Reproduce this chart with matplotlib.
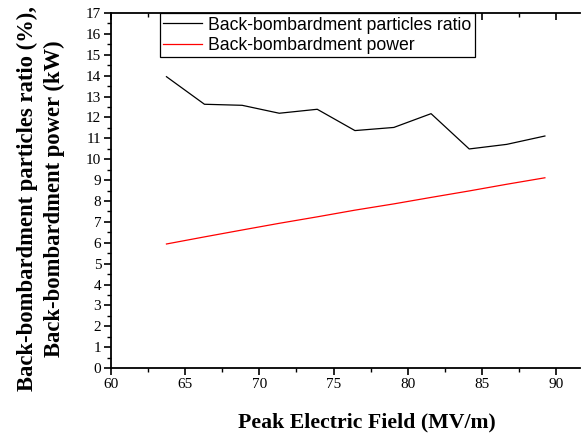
import matplotlib.pyplot as plt
from matplotlib.ticker import MultipleLocator

# Data
field = [63.74, 66.30, 68.84, 71.34, 73.90, 76.44, 79.06, 81.57, 84.14, 86.67, 89.24]
ratio = [13.95, 12.63, 12.58, 12.20, 12.39, 11.37, 11.52, 12.18, 10.49, 10.71, 11.11]
power = [5.94, 6.28, 6.61, 6.93, 7.24, 7.56, 7.86, 8.17, 8.48, 8.80, 9.11]

plt.rcParams['font.family'] = 'Liberation Serif'

# Prepare Plot
fig = plt.figure(figsize=(5.84, 4.33), dpi=100)
ax = fig.add_axes([0.190, 0.150, 0.803, 0.820])

ax.plot(field, ratio, color='black', lw=0.9, label='Back-bombardment particles ratio')
ax.plot(field, power, color='red', lw=0.9, label='Back-bombardment power')

ax.set_xlim(60, 91.6)
ax.set_ylim(0, 17)
ax.xaxis.set_major_locator(MultipleLocator(5))
ax.xaxis.set_minor_locator(MultipleLocator(2.5))
ax.yaxis.set_major_locator(MultipleLocator(1))
ax.yaxis.set_minor_locator(MultipleLocator(0.5))

ax.spines['right'].set_visible(False)
for s in ['left', 'bottom', 'top']:
    ax.spines[s].set_linewidth(1.3)

ax.tick_params(axis='both', which='major', direction='out', length=5, width=1.2,
               labelsize=11, pad=2)
ax.tick_params(axis='both', which='minor', direction='out', length=3, width=1.0)
ax.tick_params(axis='x', which='both', top=True, labeltop=False)
# top ticks point inward
for t in ax.xaxis.get_major_ticks() + ax.xaxis.get_minor_ticks():
    t.tick2line.set_marker(3)

ax.set_xlabel('Peak Electric Field (MV/m)', fontsize=15.7, fontweight='bold')
ax.xaxis.set_label_coords((367 - 111) / 469, -(422 - 368) / 355, transform=ax.transAxes)
ax.xaxis.label.set_va('center')
ax.set_ylabel('Back-bombardment particles ratio (%),\nBack-bombardment power (kW)',
              fontsize=16.3, fontweight='bold', linespacing=1.35)
ax.yaxis.set_label_coords(-(111 - 41) / 469, (368 - 199) / 355, transform=ax.transAxes)
ax.yaxis.label.set_va('center')

leg = ax.legend(loc='upper left', bbox_to_anchor=(0.1045, 1.0),
                prop={'family': 'Liberation Sans', 'size': 12.7},
                frameon=True, fancybox=False, framealpha=1, borderpad=0.2,
                labelspacing=0.18, handlelength=2.2, handletextpad=0.35,
                borderaxespad=0)
leg.get_frame().set_edgecolor('black')
leg.get_frame().set_linewidth(0.9)

plt.savefig('out.png', dpi=100)
